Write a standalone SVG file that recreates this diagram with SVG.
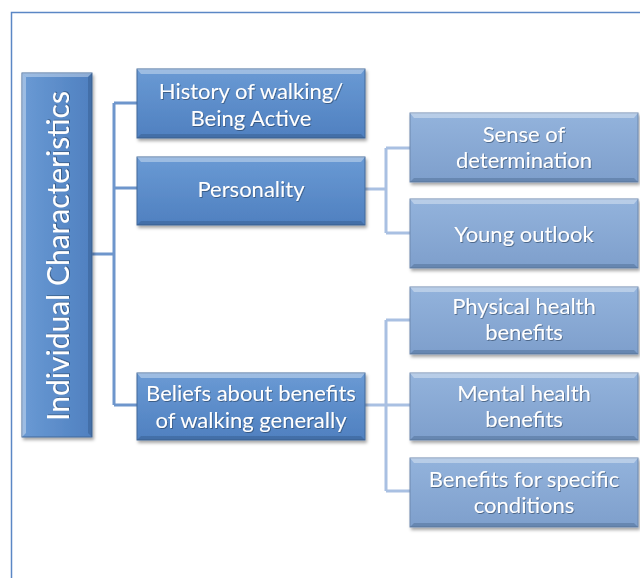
<svg xmlns="http://www.w3.org/2000/svg" width="640" height="578" viewBox="0 0 640 578">
<defs>
<linearGradient id="g1" x1="0" y1="0" x2="0" y2="1">
<stop offset="0" stop-color="#6a9ad4"/>
<stop offset="1" stop-color="#4f80c0"/>
</linearGradient>
<linearGradient id="g2" x1="0" y1="0" x2="0" y2="1">
<stop offset="0" stop-color="#93b3dc"/>
<stop offset="1" stop-color="#7e9fcc"/>
</linearGradient>
<linearGradient id="gr" x1="0" y1="0" x2="1" y2="0">
<stop offset="0" stop-color="#6a9ad4"/>
<stop offset="1" stop-color="#4f80c0"/>
</linearGradient>
<filter id="sh" x="-10%" y="-10%" width="125%" height="130%">
<feDropShadow dx="1.5" dy="2.5" stdDeviation="1.8" flood-color="#000" flood-opacity="0.35"/>
</filter>
<filter id="ts" x="-5%" y="-20%" width="110%" height="150%">
<feDropShadow dx="0.8" dy="1" stdDeviation="0.7" flood-color="#203550" flood-opacity="0.55"/>
</filter>
</defs>
<style>
.l1{fill:url(#g1);stroke:#43689a;stroke-width:1}
.l2{fill:url(#g2);stroke:#6d88ad;stroke-width:1}
.hi{fill:#ffffff;opacity:0.35}
.lo{fill:#1e3a60;opacity:0.25}
.t{font-family:Lato,"Open Sans",sans-serif;font-size:22px;fill:#ffffff;text-anchor:middle;dominant-baseline:central}
.c1{fill:none;stroke:#6e96cc;stroke-width:3}
.c2{fill:none;stroke:#a9c0e2;stroke-width:3}
</style>
<rect x="11.5" y="12.5" width="640" height="580" fill="#ffffff" stroke="#5b87c5" stroke-width="1.5"/>
<g id="connectors">
<path class="c1" d="M92 254 H114 M114 103 V405 M114 103 H137 M114 188 H137 M114 405 H137"/>
<path class="c2" d="M364 189 H386 M386 148 V233 M386 148 H410 M386 233 H410"/>
<path class="c2" d="M364 405 H410 M386 320 V491 M386 320 H410 M386 491 H410"/>
</g>
<g id="root">
<rect class="l1" x="22" y="73" width="70" height="364" style="fill:url(#gr)" filter="url(#sh)"/>
<polygon class="hi" points="22,73 92,73 88,77 26,77"/>
<polygon class="hi" points="22,73 26,77 26,433 22,437"/>
<polygon class="lo" points="92,73 92,437 88,433 88,77"/>
<text class="t" transform="translate(57 256) rotate(-90)" style="font-size:30px" filter="url(#ts)">Individual Characteristics</text>
</g>
<g id="history">
<rect class="l1" x="137" y="69" width="228" height="69" filter="url(#sh)"/>
<polygon class="hi" points="137,69 365,69 361,74 141,74"/>
<polygon class="lo" points="137,138 365,138 361,134 141,134"/>
<text class="t" x="251" y="90" filter="url(#ts)">History of walking/</text>
<text class="t" x="251" y="117" filter="url(#ts)">Being Active</text>
</g>
<g id="personality">
<rect class="l1" x="137" y="157" width="228" height="68" filter="url(#sh)"/>
<polygon class="hi" points="137,157 365,157 361,162 141,162"/>
<polygon class="lo" points="137,225 365,225 361,221 141,221"/>
<text class="t" x="251" y="188" filter="url(#ts)">Personality</text>
</g>
<g id="beliefs">
<rect class="l1" x="137" y="373" width="228" height="67" filter="url(#sh)"/>
<polygon class="hi" points="137,373 365,373 361,378 141,378"/>
<polygon class="lo" points="137,440 365,440 361,436 141,436"/>
<text class="t" x="251" y="392" filter="url(#ts)">Beliefs about benefits</text>
<text class="t" x="251" y="419" filter="url(#ts)">of walking generally</text>
</g>
<g id="sense">
<rect class="l2" x="410" y="113" width="228" height="69" filter="url(#sh)"/>
<polygon class="hi" points="410,113 638,113 634,118 414,118"/>
<polygon class="lo" points="410,182 638,182 634,178 414,178"/>
<text class="t" x="524" y="133" filter="url(#ts)">Sense of</text>
<text class="t" x="524" y="159" filter="url(#ts)">determination</text>
</g>
<g id="young">
<rect class="l2" x="410" y="199" width="228" height="69" filter="url(#sh)"/>
<polygon class="hi" points="410,199 638,199 634,204 414,204"/>
<polygon class="lo" points="410,268 638,268 634,264 414,264"/>
<text class="t" x="524" y="233" filter="url(#ts)">Young outlook</text>
</g>
<g id="physical">
<rect class="l2" x="410" y="287" width="228" height="67" filter="url(#sh)"/>
<polygon class="hi" points="410,287 638,287 634,292 414,292"/>
<polygon class="lo" points="410,354 638,354 634,350 414,350"/>
<text class="t" x="524" y="305" filter="url(#ts)">Physical health</text>
<text class="t" x="524" y="331" filter="url(#ts)">benefits</text>
</g>
<g id="mental">
<rect class="l2" x="410" y="373" width="228" height="67" filter="url(#sh)"/>
<polygon class="hi" points="410,373 638,373 634,378 414,378"/>
<polygon class="lo" points="410,440 638,440 634,436 414,436"/>
<text class="t" x="524" y="392" filter="url(#ts)">Mental health</text>
<text class="t" x="524" y="418" filter="url(#ts)">benefits</text>
</g>
<g id="specific">
<rect class="l2" x="410" y="458" width="228" height="69" filter="url(#sh)"/>
<polygon class="hi" points="410,458 638,458 634,463 414,463"/>
<polygon class="lo" points="410,527 638,527 634,523 414,523"/>
<text class="t" x="524" y="478" filter="url(#ts)">Benefits for specific</text>
<text class="t" x="524" y="504" filter="url(#ts)">conditions</text>
</g>
</svg>
